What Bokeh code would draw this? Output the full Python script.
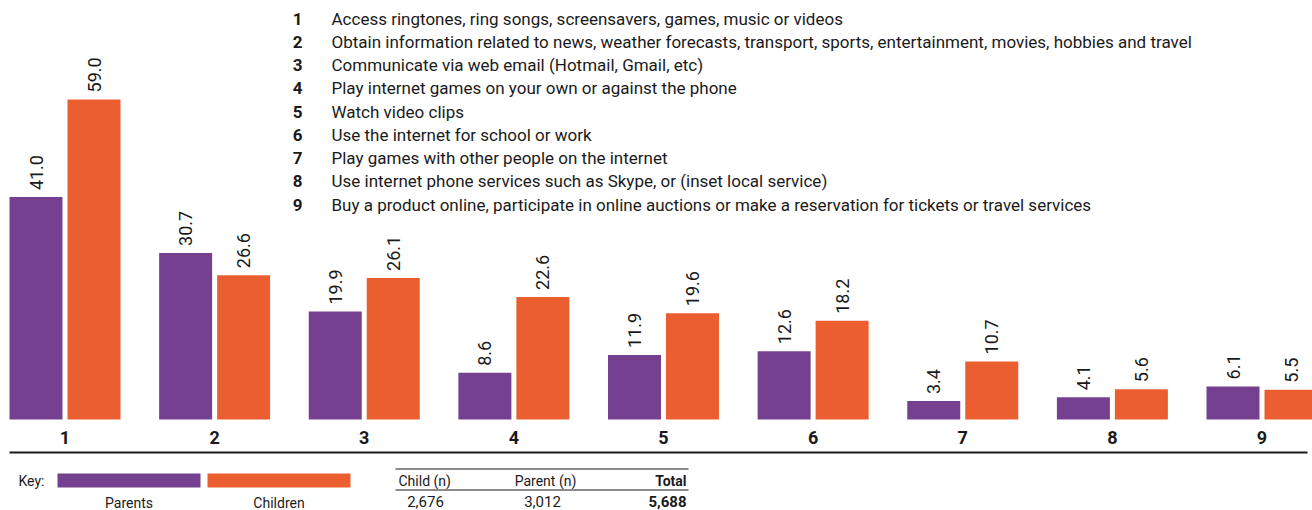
import math
from bokeh.plotting import figure
from bokeh.models import Range1d, ColumnDataSource, Label, BoxAnnotation
from bokeh.core.properties import value
from bokeh.embed import file_html
from bokeh.resources import INLINE

# ---------------- data ----------------
categories = ["1", "2", "3", "4", "5", "6", "7", "8", "9"]
descriptions = [
    "Access ringtones, ring songs, screensavers, games, music or videos",
    "Obtain information related to news, weather forecasts, transport, sports, entertainment, movies, hobbies and travel",
    "Communicate via web email (Hotmail, Gmail, etc)",
    "Play internet games on your own or against the phone",
    "Watch video clips",
    "Use the internet for school or work",
    "Play games with other people on the internet",
    "Use internet phone services such as Skype, or (inset local service)",
    "Buy a product online, participate in online auctions or make a reservation for tickets or travel services",
]
parents = [41.0, 30.7, 19.9, 8.6, 11.9, 12.6, 3.4, 4.1, 6.1]
children = [59.0, 26.6, 26.1, 22.6, 19.6, 18.2, 10.7, 5.6, 5.5]
series_names = ["Parents", "Children"]
table_headers = ["Child (n)", "Parent (n)", "Total"]
table_values = ["2,676", "3,012", "5,688"]

PURPLE = "#764090"
ORANGE = "#EB5E30"
TXT = "#1a1a1a"
FONT = "Roboto"

W, H = 1312, 510
GROUP_PX = 149.625
Y_PX = 5.424
BASE = 419
x_start = 1 + (0 - 64.5) / GROUP_PX
x_end = x_start + W / GROUP_PX
y_start = -(H - BASE) / Y_PX
y_end = BASE / Y_PX

p = figure(width=W, height=H, output_backend="svg", toolbar_location=None,
           x_range=Range1d(x_start, x_end), y_range=Range1d(y_start, y_end),
           x_axis_location=None, y_axis_location=None, min_border=0)
p.grid.visible = False
p.outline_line_color = None
p.background_fill_color = "white"
p.border_fill_color = "white"

idx = list(range(1, len(categories) + 1))
bw = 53 / GROUP_PX
off = 29 / GROUP_PX
xp = [i - off for i in idx]
xc = [i + off for i in idx]

src = ColumnDataSource(dict(x=idx, xp=xp, xc=xc, parents=parents, children=children,
                            plab=[f"{v:.1f}" for v in parents],
                            clab=[f"{v:.1f}" for v in children],
                            cat=categories))

p.vbar(x="xp", top="parents", bottom=0, width=bw, source=src, fill_color=PURPLE, line_color=None)
p.vbar(x="xc", top="children", bottom=0, width=bw, source=src, fill_color=ORANGE, line_color=None)

for xcol, ycol, lcol in (("xp", "parents", "plab"), ("xc", "children", "clab")):
    p.text(x=xcol, y=ycol, text=lcol, source=src, angle=math.pi / 2,
           text_align="left", text_baseline="middle", y_offset=-7,
           text_font=value(FONT), text_font_size="18px", text_color=TXT)

# category labels
p.text(x="x", y=-(437 - BASE) / Y_PX, text="cat", source=src, text_align="center",
       text_baseline="middle", text_font=value(FONT), text_font_size="18px",
       text_font_style="bold", text_color=TXT)

# line under category labels
p.segment(x0=x_start + 9 / GROUP_PX, x1=x_start + 1307 / GROUP_PX,
          y0=-(452 - BASE) / Y_PX, y1=-(452 - BASE) / Y_PX, line_color=TXT, line_width=2)


def sx(X):
    return X


def sy(Y):
    return H - Y


# numbered description list
for k, (c, d) in enumerate(zip(categories, descriptions)):
    yy = 18 + k * 23.25
    p.add_layout(Label(x=sx(302), y=sy(yy), x_units="screen", y_units="screen", text=c,
                       text_align="right", text_baseline="middle", text_font=FONT,
                       text_font_size="17px", text_font_style="bold", text_color=TXT))
    p.add_layout(Label(x=sx(331), y=sy(yy), x_units="screen", y_units="screen", text=d,
                       text_align="left", text_baseline="middle", text_font=FONT,
                       text_font_size="17px", text_color=TXT))

# key
p.add_layout(Label(x=sx(18), y=sy(480), x_units="screen", y_units="screen", text="Key:",
                   text_align="left", text_baseline="middle", text_font=FONT,
                   text_font_size="14px", text_color=TXT))
for (l, r, col, name) in ((57, 200, PURPLE, series_names[0]), (207, 350, ORANGE, series_names[1])):
    p.add_layout(BoxAnnotation(left=sx(l), right=sx(r), top=sy(473), bottom=sy(487),
                               left_units="screen", right_units="screen",
                               top_units="screen", bottom_units="screen",
                               fill_color=col, fill_alpha=1, line_color=None))
    p.add_layout(Label(x=sx((l + r) / 2), y=sy(502), x_units="screen", y_units="screen",
                       text=name, text_align="center", text_baseline="middle",
                       text_font=FONT, text_font_size="14px", text_color=TXT))

# table
for yl in (468.5, 489.5):
    p.add_layout(BoxAnnotation(left=sx(395), right=sx(688), top=sy(yl - 0.6), bottom=sy(yl + 0.6),
                               left_units="screen", right_units="screen",
                               top_units="screen", bottom_units="screen",
                               fill_color=TXT, fill_alpha=1, line_color=None))
hx = [(398, "left"), (545, "center"), (686, "right")]
vx = [(425, "center"), (542, "center"), (686, "right")]
for j in range(3):
    bold = "bold" if j == 2 else "normal"
    p.add_layout(Label(x=sx(hx[j][0]), y=sy(480), x_units="screen", y_units="screen",
                       text=table_headers[j], text_align=hx[j][1], text_baseline="middle",
                       text_font=FONT, text_font_size="14px", text_font_style=bold, text_color=TXT))
    p.add_layout(Label(x=sx(vx[j][0]), y=sy(501), x_units="screen", y_units="screen",
                       text=table_values[j], text_align=vx[j][1], text_baseline="middle",
                       text_font=FONT, text_font_size="15px", text_font_style=bold, text_color=TXT))

open("out.html", "w").write(file_html(p, INLINE))
